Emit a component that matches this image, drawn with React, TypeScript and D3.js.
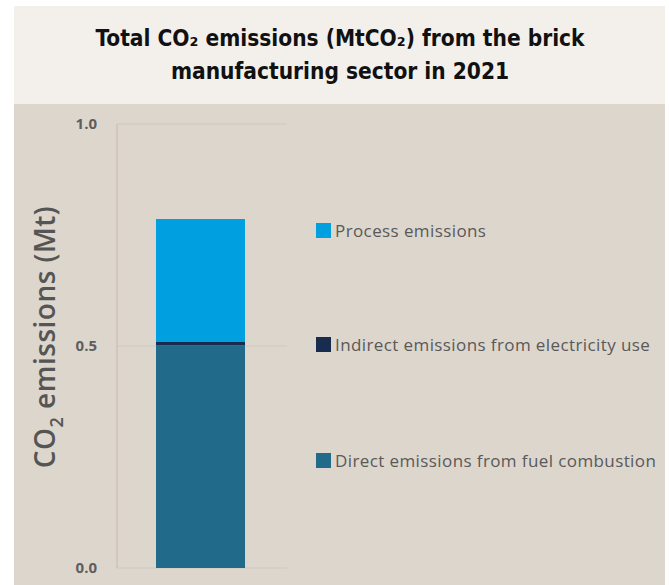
import React from "react";
import * as d3 from "d3";

// Emission components of the single stacked bar (MtCO2), bottom to top
const categories = ["2021"];
const seriesNames = [
  "Direct emissions from fuel combustion",
  "Indirect emissions from electricity use",
  "Process emissions",
];
const directValues = [0.502];
const indirectValues = [0.007];
const processValues = [0.277];
const seriesColors = ["#216a8a", "#172c4e", "#00a0e0"];
const yTicks = [0.0, 0.5, 1.0];
const titleLines = [
  "Total CO\u2082 emissions (MtCO\u2082) from the brick",
  "manufacturing sector in 2021",
];

const W = 669;
const H = 585;

export default function App() {
  const rows = categories.map((c, i) => ({
    category: c,
    direct: directValues[i],
    indirect: indirectValues[i],
    process: processValues[i],
  }));
  const keys = ["direct", "indirect", "process"];
  const stacked = d3.stack<any>().keys(keys)(rows);

  const y = d3.scaleLinear().domain([0, 1]).range([568, 124]);
  const x = d3
    .scaleBand()
    .domain(categories)
    .range([117, 284])
    .paddingInner(0)
    .paddingOuter(0.438);

  // legend order top to bottom: process, indirect, direct
  const legendY = [230, 344, 460];
  const legendOrder = [2, 1, 0];

  return (
    <div style={{ position: "fixed", left: 0, top: 0 }}>
      <svg width={W} height={H} style={{ display: "block" }}>
        <rect x={0} y={0} width={W} height={H} fill="#ffffff" />
        <rect x={14} y={6} width={651} height={98} fill="#f3f0ec" />
        <rect x={14} y={104} width={651} height={H - 104} fill="#ddd6cd" />
        {titleLines.map((t, i) => (
          <text
            key={i}
            x={340}
            y={46 + i * 33}
            textAnchor="middle"
            fontFamily="'DejaVu Sans Condensed', 'DejaVu Sans', sans-serif"
            fontStretch="condensed"
            fontWeight="bold"
            fontSize={22.5}
            fill="#111111"
          >
            {t}
          </text>
        ))}

        {/* gridlines */}
        {yTicks.map((t) => (
          <line
            key={t}
            x1={117}
            x2={287}
            y1={y(t)}
            y2={y(t)}
            stroke="#d3ccc2"
            strokeWidth={1.5}
          />
        ))}
        <line x1={117} x2={117} y1={124} y2={568} stroke="#cbc3b9" strokeWidth={1.5} />

        {yTicks.map((t) => (
          <text
            key={"l" + t}
            x={97}
            y={y(t) + 5}
            textAnchor="end"
            fontFamily="'Open Sans', sans-serif"
            fontWeight="bold"
            fontSize={15}
            fill="#5e5e5e"
          >
            {t.toFixed(1)}
          </text>
        ))}

        <text
          transform="translate(55,337) rotate(-90)"
          textAnchor="middle"
          fontFamily="'Open Sans', sans-serif"
          fontSize={28}
          fontWeight={600}
          letterSpacing={0.5}
          fill="#555555"
        >
          CO<tspan fontSize={18} dy={8}>2</tspan>
          <tspan dy={-8}> emissions (Mt)</tspan>
        </text>

        {stacked.map((s, si) =>
          s.map((d, di) => (
            <rect
              key={si + "-" + di}
              x={x(rows[di].category)}
              width={x.bandwidth()}
              y={y(d[1])}
              height={y(d[0]) - y(d[1])}
              fill={seriesColors[si]}
            />
          ))
        )}

        {legendOrder.map((si, i) => (
          <g key={"lg" + si} transform={`translate(316,${legendY[i]})`}>
            <rect x={0} y={-7} width={15} height={15} fill={seriesColors[si]} />
            <text
              x={19}
              y={7}
              fontFamily="'Open Sans', sans-serif"
              fontSize={17}
              letterSpacing={0.4}
              fill="#595959"
            >
              {seriesNames[si]}
            </text>
          </g>
        ))}
      </svg>
    </div>
  );
}
